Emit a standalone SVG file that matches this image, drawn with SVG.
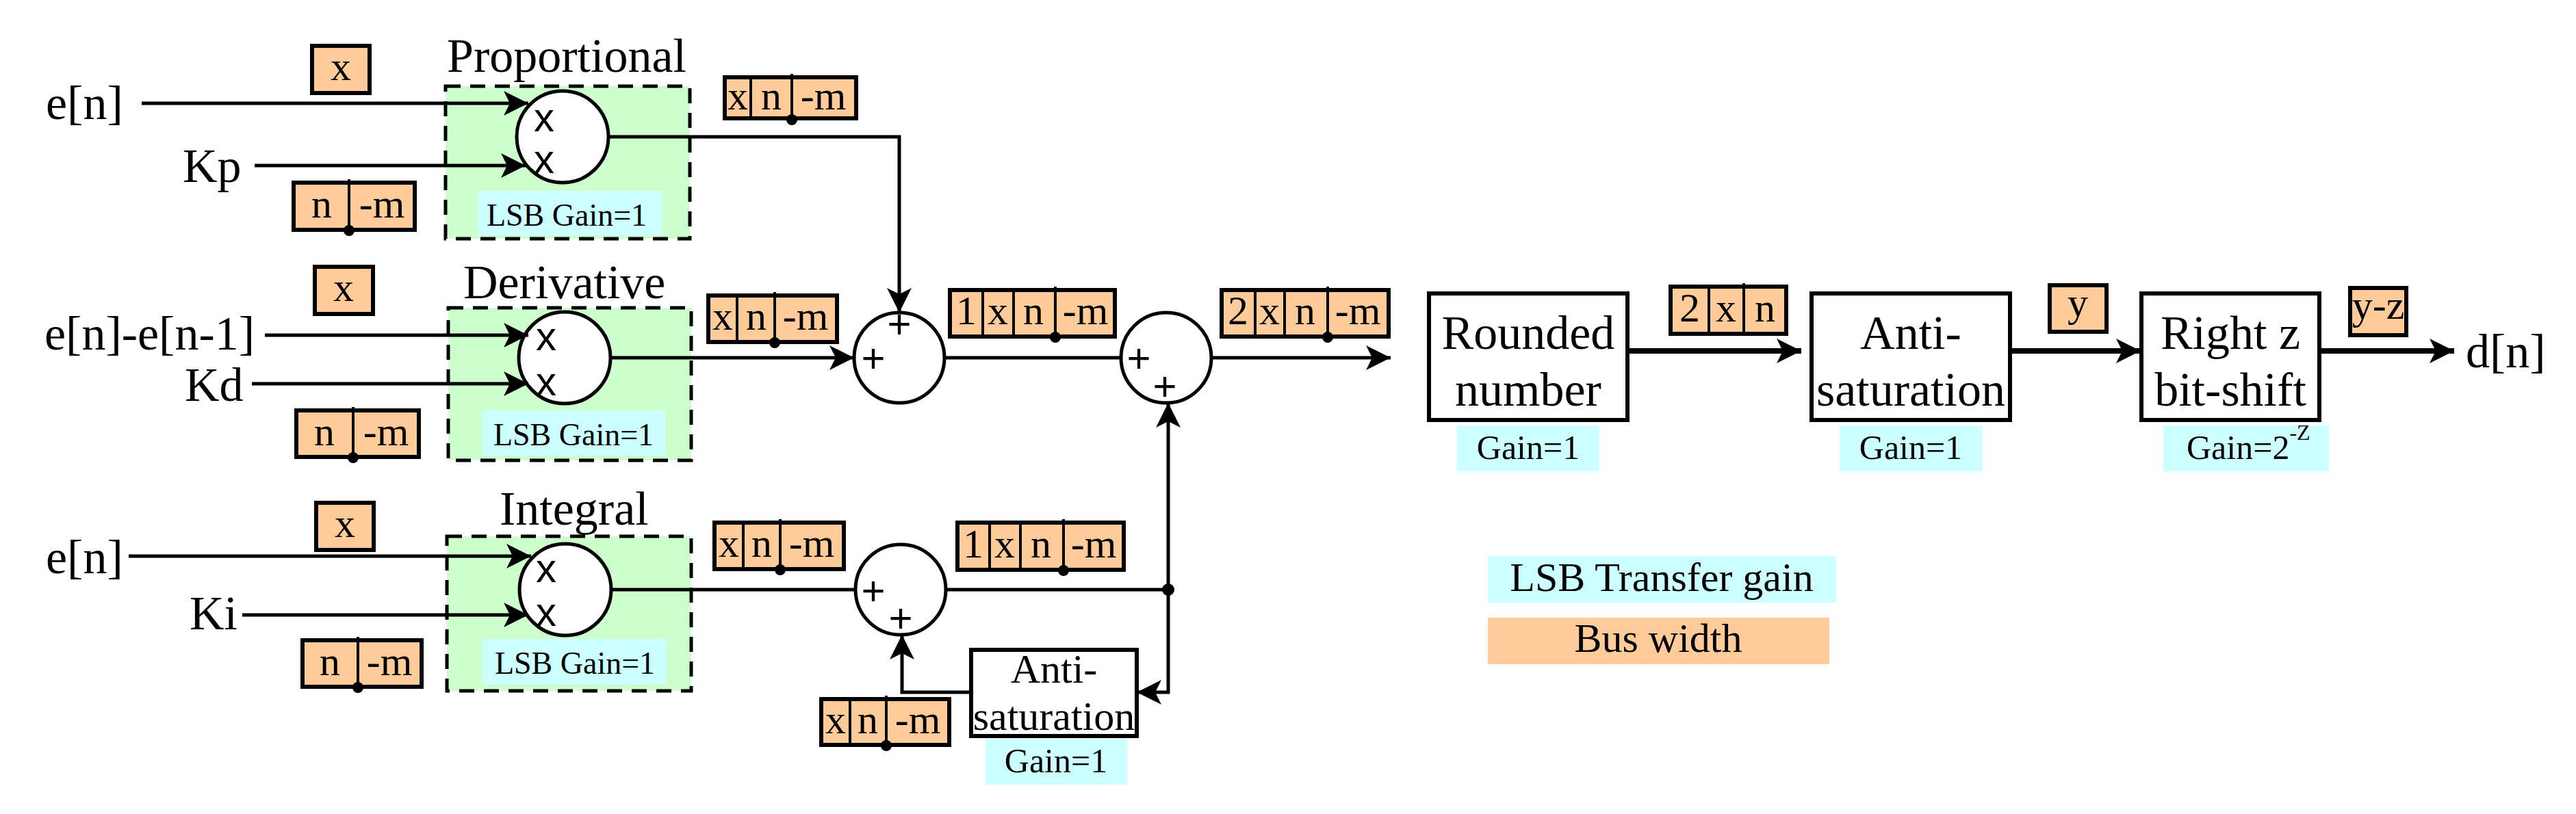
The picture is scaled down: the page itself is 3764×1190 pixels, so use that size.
<svg xmlns="http://www.w3.org/2000/svg" width="3764" height="1190" viewBox="0 0 3764 1190">
<defs>
<marker id="ah" markerUnits="userSpaceOnUse" markerWidth="40" markerHeight="40" refX="36" refY="18" orient="auto">
<path d="M0,0 L36,18 L0,36 L9,18 Z" fill="#000"/>
</marker>
<style>
text{font-family:"Liberation Serif","Times New Roman",serif;fill:#000}
.t70{font-size:70px}
.t60{font-size:60px}
.t52{font-size:50px}
.t46{font-size:46px}
.c{text-anchor:middle}
.sym{font-family:"Liberation Sans",Arial,sans-serif;font-size:60px;text-anchor:middle}
.bus{fill:#FFCC99;stroke:#000;stroke-width:6}
.div{stroke:#000;stroke-width:4}
.cy{fill:#CCFFFF}
.grp{fill:#CCFFCC;stroke:#000;stroke-width:5;stroke-dasharray:22 14}
.op{fill:#fff;stroke:#000;stroke-width:5}
.blk{fill:#fff;stroke:#000;stroke-width:6}
.ln{fill:none;stroke:#000;stroke-width:5}
.lnt{fill:none;stroke:#000;stroke-width:8}
</style>
</defs>

<g id="labels-inputs">
<text class="t70" x="67" y="174">e[n]</text>
<text class="t70" x="267" y="266">Kp</text>
<text class="t70" x="65" y="511">e[n]-e[n-1]</text>
<text class="t70" x="270" y="586">Kd</text>
<text class="t70" x="67" y="838">e[n]</text>
<text class="t70" x="277" y="920">Ki</text>
</g>

<g id="proportional">
<text class="t70" x="653" y="105">Proportional</text>
<rect class="grp" x="651" y="126" width="357" height="223"/>
<rect class="cy" x="698" y="279" width="269" height="65"/>
<text class="t46 c" x="828" y="330">LSB Gain=1</text>
<circle class="op" cx="822" cy="200" r="67"/>
<text class="sym" x="795" y="192">x</text>
<text class="sym" x="795" y="253">x</text>
</g>
<g id="derivative">
<text class="t70" x="677" y="436">Derivative</text>
<rect class="grp" x="655" y="450" width="355" height="223"/>
<rect class="cy" x="705" y="600" width="267" height="66"/>
<text class="t46 c" x="838" y="651">LSB Gain=1</text>
<circle class="op" cx="825" cy="523" r="67"/>
<text class="sym" x="798" y="512">x</text>
<text class="sym" x="798" y="578">x</text>
</g>
<g id="integral">
<text class="t70" x="730" y="767">Integral</text>
<rect class="grp" x="653" y="784" width="357" height="226"/>
<rect class="cy" x="705" y="934" width="269" height="67"/>
<text class="t46 c" x="840" y="985">LSB Gain=1</text>
<circle class="op" cx="826" cy="862" r="67"/>
<text class="sym" x="798" y="851">x</text>
<text class="sym" x="798" y="915">x</text>
</g>

<g id="sum1"><circle class="op" cx="1314" cy="523" r="66"/>
<text class="sym" x="1276" y="544">+</text><text class="sym" x="1314" y="494">+</text></g>
<g id="sum2"><circle class="op" cx="1704" cy="523" r="66"/>
<text class="sym" x="1664" y="544">+</text><text class="sym" x="1702" y="585">+</text></g>
<g id="sum3"><circle class="op" cx="1316" cy="862" r="66"/>
<text class="sym" x="1276" y="884">+</text><text class="sym" x="1316" y="924">+</text></g>

<g id="anti-int">
<rect class="blk" x="1419" y="950" width="242" height="126"/>
<text class="t60 c" x="1540" y="998">Anti-</text>
<text class="t60 c" x="1540" y="1067">saturation</text>
<rect class="cy" x="1440" y="1080" width="207" height="67"/>
<text class="t52 c" x="1543" y="1129">Gain=1</text>
</g>

<g id="rounded">
<rect class="blk" x="2088" y="429" width="290" height="185"/>
<text class="t70 c" x="2233" y="510">Rounded</text>
<text class="t70 c" x="2233" y="593">number</text>
<rect class="cy" x="2129" y="622" width="208" height="67"/>
<text class="t52 c" x="2233" y="671">Gain=1</text>
</g>
<g id="anti-out">
<rect class="blk" x="2647" y="429" width="290" height="185"/>
<text class="t70 c" x="2792" y="510">Anti-</text>
<text class="t70 c" x="2792" y="593">saturation</text>
<rect class="cy" x="2688" y="622" width="209" height="67"/>
<text class="t52 c" x="2792" y="671">Gain=1</text>
</g>
<g id="shift">
<rect class="blk" x="3129" y="429" width="260" height="185"/>
<text class="t70 c" x="3259" y="510">Right z</text>
<text class="t70 c" x="3259" y="593">bit-shift</text>
<rect class="cy" x="3161" y="622" width="242" height="67"/>
<text class="t52" x="3195" y="671">Gain=2<tspan font-size="32" dy="-28">-Z</tspan></text>
</g>
<text class="t70" x="3603" y="537">d[n]</text>

<g id="legend">
<rect class="cy" x="2174" y="813" width="509" height="68"/>
<text class="t60 c" x="2428" y="864">LSB Transfer gain</text>
<rect fill="#FFCC99" x="2174" y="903" width="499" height="68"/>
<text class="t60 c" x="2423" y="953">Bus width</text>
</g>

<g id="bus-labels">
<rect class="bus" x="456" y="67" width="84" height="69"/><text class="t60 c" x="498" y="117">x</text>
<rect class="bus" x="460" y="390" width="85" height="69"/><text class="t60 c" x="502" y="440">x</text>
<rect class="bus" x="462" y="735" width="84" height="69"/><text class="t60 c" x="504" y="785">x</text>

<rect class="bus" x="429" y="267" width="177" height="69"/><line class="div" x1="510" y1="262" x2="510" y2="336"/><circle cx="510" cy="337" r="8"/>
<text class="t60 c" x="470" y="318">n</text><text class="t60 c" x="558" y="318">-m</text>
<rect class="bus" x="433" y="600" width="179" height="68"/><line class="div" x1="516" y1="595" x2="516" y2="668"/><circle cx="516" cy="669" r="8"/>
<text class="t60 c" x="474" y="651">n</text><text class="t60 c" x="564" y="651">-m</text>
<rect class="bus" x="442" y="936" width="174" height="68"/><line class="div" x1="523" y1="931" x2="523" y2="1004"/><circle cx="523" cy="1005" r="8"/>
<text class="t60 c" x="482" y="987">n</text><text class="t60 c" x="569" y="987">-m</text>

<rect class="bus" x="1059" y="113" width="192" height="60"/><line class="div" x1="1097" y1="113" x2="1097" y2="173"/><line class="div" x1="1157" y1="108" x2="1157" y2="173"/><circle cx="1157" cy="175" r="8"/>
<text class="t60 c" x="1078" y="160">x</text><text class="t60 c" x="1127" y="160">n</text><text class="t60 c" x="1203" y="160">-m</text>

<rect class="bus" x="1035" y="432" width="188" height="68"/><line class="div" x1="1077" y1="432" x2="1077" y2="500"/><line class="div" x1="1132" y1="427" x2="1132" y2="500"/><circle cx="1132" cy="501" r="8"/>
<text class="t60 c" x="1056" y="482">x</text><text class="t60 c" x="1105" y="482">n</text><text class="t60 c" x="1177" y="482">-m</text>

<rect class="bus" x="1044" y="764" width="189" height="68"/><line class="div" x1="1086" y1="764" x2="1086" y2="832"/><line class="div" x1="1140" y1="759" x2="1140" y2="832"/><circle cx="1140" cy="833" r="8"/>
<text class="t60 c" x="1065" y="814">x</text><text class="t60 c" x="1113" y="814">n</text><text class="t60 c" x="1186" y="814">-m</text>

<rect class="bus" x="1200" y="1022" width="187" height="67"/><line class="div" x1="1242" y1="1022" x2="1242" y2="1089"/><line class="div" x1="1295" y1="1017" x2="1295" y2="1089"/><circle cx="1295" cy="1090" r="8"/>
<text class="t60 c" x="1221" y="1072">x</text><text class="t60 c" x="1268" y="1072">n</text><text class="t60 c" x="1341" y="1072">-m</text>

<rect class="bus" x="1388" y="424" width="241" height="68"/><line class="div" x1="1436" y1="424" x2="1436" y2="492"/><line class="div" x1="1481" y1="424" x2="1481" y2="492"/><line class="div" x1="1542" y1="419" x2="1542" y2="492"/><circle cx="1542" cy="493" r="8"/>
<text class="t60 c" x="1412" y="474">1</text><text class="t60 c" x="1458" y="474">x</text><text class="t60 c" x="1510" y="474">n</text><text class="t60 c" x="1586" y="474">-m</text>

<rect class="bus" x="1399" y="764" width="243" height="69"/><line class="div" x1="1446" y1="764" x2="1446" y2="833"/><line class="div" x1="1491" y1="764" x2="1491" y2="833"/><line class="div" x1="1554" y1="759" x2="1554" y2="833"/><circle cx="1554" cy="834" r="8"/>
<text class="t60 c" x="1422" y="815">1</text><text class="t60 c" x="1468" y="815">x</text><text class="t60 c" x="1521" y="815">n</text><text class="t60 c" x="1598" y="815">-m</text>

<rect class="bus" x="1785" y="424" width="244" height="68"/><line class="div" x1="1834" y1="424" x2="1834" y2="492"/><line class="div" x1="1877" y1="424" x2="1877" y2="492"/><line class="div" x1="1940" y1="419" x2="1940" y2="492"/><circle cx="1940" cy="493" r="8"/>
<text class="t60 c" x="1809" y="474">2</text><text class="t60 c" x="1855" y="474">x</text><text class="t60 c" x="1907" y="474">n</text><text class="t60 c" x="1984" y="474">-m</text>

<rect class="bus" x="2441" y="419" width="169" height="69"/><line class="div" x1="2497" y1="419" x2="2497" y2="488"/><line class="div" x1="2548" y1="414" x2="2548" y2="488"/>
<text class="t60 c" x="2469" y="470">2</text><text class="t60 c" x="2522" y="470">x</text><text class="t60 c" x="2579" y="470">n</text>

<rect class="bus" x="2995" y="417" width="83" height="68"/><text class="t60 c" x="3036" y="462">y</text>
<rect class="bus" x="3434" y="421" width="82" height="69"/><text class="t60 c" x="3475" y="466">y-z</text>
</g>

<g id="connectors">
<line class="ln" x1="207" y1="151" x2="772" y2="151" marker-end="url(#ah)"/>
<line class="ln" x1="372" y1="242" x2="768" y2="242" marker-end="url(#ah)"/>
<line class="ln" x1="387" y1="490" x2="772" y2="490" marker-end="url(#ah)"/>
<line class="ln" x1="368" y1="561" x2="772" y2="561" marker-end="url(#ah)"/>
<line class="ln" x1="188" y1="813" x2="776" y2="813" marker-end="url(#ah)"/>
<line class="ln" x1="354" y1="899" x2="772" y2="899" marker-end="url(#ah)"/>
<polyline class="ln" points="889,200 1314,200 1314,457" marker-end="url(#ah)"/>
<line class="ln" x1="892" y1="523" x2="1248" y2="523" marker-end="url(#ah)"/>
<line class="ln" x1="893" y1="862" x2="1250" y2="862"/>
<line class="ln" x1="1380" y1="523" x2="1638" y2="523"/>
<line class="ln" x1="1770" y1="523" x2="2032" y2="523" marker-end="url(#ah)"/>
<line class="ln" x1="1382" y1="862" x2="1707" y2="862"/>
<circle cx="1707" cy="862" r="9"/>
<line class="ln" x1="1707" y1="862" x2="1707" y2="589" marker-end="url(#ah)"/>
<polyline class="ln" points="1707,862 1707,1012 1661,1012" marker-end="url(#ah)"/>
<polyline class="ln" points="1419,1012 1318,1012 1318,928" marker-end="url(#ah)"/>
<line class="lnt" x1="2378" y1="513" x2="2632" y2="513" marker-end="url(#ah)"/>
<line class="lnt" x1="2937" y1="513" x2="3128" y2="513" marker-end="url(#ah)"/>
<line class="lnt" x1="3389" y1="513" x2="3586" y2="513" marker-end="url(#ah)"/>
</g>
</svg>
